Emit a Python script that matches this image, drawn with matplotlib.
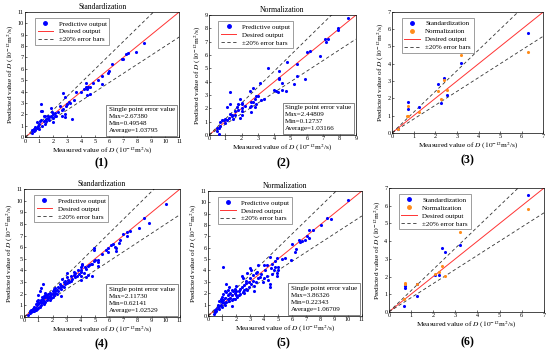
import matplotlib
matplotlib.use('Agg')
import matplotlib.pyplot as plt
from matplotlib.lines import Line2D

plt.rcParams['font.family'] = ['Liberation Serif', 'DejaVu Serif']
plt.rcParams['mathtext.fontset'] = 'stix'
plt.rcParams['font.size'] = 5

# (measured, predicted) pairs
pts1 = [(8.5, 8.3), (7.9, 7.5), (7.3, 7.4), (7.2, 7.3), (7.0, 6.9), (6.9, 6.9), (6.2, 6.4),
        (6.0, 5.8), (5.9, 5.6), (5.5, 5.4), (5.5, 4.7), (5.2, 5.0), (4.8, 4.8), (4.6, 4.4),
        (4.6, 3.8), (4.5, 4.4), (4.4, 4.2), (4.3, 4.4), (4.3, 4.8), (4.2, 4.2), (4.4, 3.7),
        (4.0, 4.0), (3.6, 4.0), (3.5, 3.3), (3.3, 1.6), (3.2, 3.0), (3.0, 2.9), (2.8, 3.5),
        (2.7, 3.9), (2.9, 2.7), (2.8, 2.0), (2.8, 1.8), (2.7, 2.5), (2.6, 2.4), (2.6, 1.9),
        (2.5, 2.7), (2.3, 2.2), (2.0, 2.0), (2.0, 1.7), (2.0, 1.3), (1.9, 2.2), (1.8, 2.6),
        (1.8, 1.9), (1.7, 1.8), (1.6, 1.7), (1.5, 1.6), (1.4, 1.9), (1.3, 1.9), (1.3, 1.4),
        (1.2, 2.3), (1.1, 2.9), (1.1, 2.3), (1.1, 1.5), (1.0, 1.2), (1.0, 0.7), (0.9, 1.0),
        (0.8, 1.3), (0.8, 0.8), (0.7, 0.9), (0.6, 0.7), (0.5, 0.6), (0.5, 0.4), (0.6, 0.5),
        (1.2, 1.0), (1.5, 1.4), (1.7, 1.5), (1.9, 1.8), (2.1, 2.1), (2.2, 1.9), (1.4, 1.2),
        (0.9, 0.8), (1.6, 1.9), (2.1, 1.9), (3.1, 3.1), (1.05, 1.4), (0.7, 0.6)]

pts2 = [(8.5, 8.8), (7.9, 8.0), (7.9, 7.9), (7.3, 7.2), (7.2, 7.0), (7.1, 7.2), (6.8, 5.9),
        (6.2, 6.3), (6.0, 6.2), (5.9, 4.2), (5.4, 4.4), (5.4, 5.3), (5.2, 3.8), (4.8, 5.5),
        (4.7, 3.3), (4.5, 3.4), (4.5, 3.9), (4.3, 4.8), (4.3, 4.3), (4.3, 4.2), (4.2, 3.2),
        (4.1, 3.3), (4.0, 3.4), (3.6, 5.0), (3.4, 2.7), (3.2, 2.6), (3.1, 3.9), (3.0, 2.9),
        (2.9, 2.9), (2.8, 2.7), (2.7, 2.5), (2.7, 3.5), (2.6, 2.2), (2.6, 1.7), (2.5, 2.1),
        (2.5, 3.3), (2.0, 2.4), (2.0, 2.3), (2.0, 1.8), (2.0, 1.5), (1.9, 2.7), (1.8, 2.3),
        (1.8, 1.9), (1.7, 2.1), (1.6, 1.5), (1.5, 1.2), (1.4, 1.5), (1.3, 3.2), (1.3, 2.3),
        (1.3, 1.6), (1.2, 1.3), (1.1, 2.1), (1.1, 1.1), (1.0, 1.2), (0.9, 1.1), (0.8, 1.1),
        (0.7, 1.0), (0.6, 0.5), (0.5, 0.5), (0.6, 0.1), (0.5, 0.3), (1.9, 1.3), (2.0, 2.0),
        (1.6, 1.8), (2.9, 2.3), (2.8, 2.1), (1.0, 0.9), (1.4, 1.4), (2.2, 2.2), (2.6, 2.5),
        (0.7, 0.7)]

pts3_std = [(0.25, 0.25), (0.75, 1.8), (0.75, 1.4), (1.25, 1.5), (2.1, 2.8), (2.25, 1.75),
            (2.4, 3.15), (2.55, 2.2), (3.2, 4.05), (6.3, 5.8)]
pts3_norm = [(0.25, 0.25), (0.75, 1.55), (0.7, 0.95), (0.75, 1.0), (1.25, 1.2), (2.1, 2.4),
             (2.25, 1.95), (2.4, 3.05), (2.55, 2.5), (3.2, 4.5), (6.3, 4.7)]

pts4 = [(10.0, 9.7), (8.5, 8.5), (8.8, 8.1), (8.1, 7.7), (7.5, 7.4), (7.3, 7.3), (7.3, 6.95),
        (7.0, 7.1), (6.8, 6.6), (6.7, 6.4), (6.5, 5.7), (6.5, 5.9), (6.4, 6.0), (6.3, 6.3),
        (6.1, 6.2), (5.9, 5.9), (5.8, 5.8), (5.9, 5.6), (5.5, 5.4), (5.2, 4.9), (5.2, 4.7),
        (5.2, 4.4), (5.0, 4.9), (4.9, 5.9), (4.9, 5.8), (4.9, 4.8), (4.8, 3.5), (4.8, 4.6),
        (4.7, 4.6), (4.6, 4.5), (4.5, 4.4), (4.5, 3.6), (4.4, 4.1), (4.4, 3.4), (4.3, 4.3),
        (4.2, 3.8), (4.1, 4.6), (4.1, 4.5), (4.0, 4.3), (4.0, 4.0), (4.0, 3.9), (4.0, 3.5),
        (4.0, 3.2), (3.9, 3.7), (3.8, 4.0), (3.7, 3.5), (3.6, 3.8), (3.5, 3.9), (3.5, 3.6),
        (3.4, 3.3), (3.3, 3.5), (3.2, 3.0), (3.1, 3.2), (3.0, 3.8), (3.0, 3.4), (3.0, 2.9),
        (2.9, 3.1), (2.9, 2.8), (2.8, 2.6), (2.8, 3.0), (2.7, 3.3), (2.7, 2.7), (2.6, 1.8),
        (2.6, 2.4), (2.5, 2.5), (2.5, 2.8), (2.4, 2.6), (2.4, 2.2), (2.3, 2.3), (2.2, 2.1),
        (2.2, 2.5), (2.1, 2.4), (2.1, 1.9), (2.0, 2.0), (2.0, 2.2), (1.9, 1.6), (1.9, 2.0),
        (1.8, 1.8), (1.8, 2.1), (1.7, 2.0), (1.7, 1.6), (1.6, 1.9), (1.6, 1.5), (1.5, 2.1),
        (1.5, 1.7), (1.5, 1.3), (1.4, 1.8), (1.4, 1.4), (1.4, 1.1), (1.3, 2.8), (1.3, 1.6),
        (1.3, 1.2), (1.2, 2.5), (1.2, 1.5), (1.2, 1.0), (1.1, 2.2), (1.1, 1.3), (1.1, 0.9),
        (1.0, 1.9), (1.0, 1.5), (1.0, 1.1), (1.0, 0.8), (0.9, 1.4), (0.9, 1.0), (0.9, 0.7),
        (0.8, 1.1), (0.8, 0.8), (0.8, 0.6), (0.7, 0.8), (0.7, 0.9), (0.7, 0.5), (0.6, 0.5),
        (0.6, 0.7), (0.5, 0.6), (0.5, 0.4), (0.4, 0.3), (0.4, 0.5), (0.3, 0.2), (1.6, 1.7),
        (1.8, 1.5), (2.3, 2.0), (2.6, 2.7), (3.3, 3.1), (3.6, 3.4), (2.0, 1.7), (1.2, 1.3),
        (0.95, 1.2), (1.35, 1.5), (1.75, 1.75), (2.15, 2.2), (1.25, 1.7), (1.45, 1.9)]

pts5 = [(10.0, 10.2), (8.8, 8.5), (8.5, 8.6), (8.1, 8.0), (7.5, 7.6), (7.2, 7.6), (7.1, 7.0),
        (7.2, 6.9), (6.9, 6.7), (6.7, 6.6), (6.5, 6.7), (6.6, 6.5), (6.3, 5.9), (6.2, 5.6),
        (6.0, 6.3), (5.9, 4.9), (5.5, 5.1), (5.3, 5.0), (5.0, 4.3), (5.0, 4.0), (4.9, 3.8),
        (4.9, 3.5), (4.9, 5.1), (4.8, 4.3), (4.7, 4.0), (4.6, 3.7), (4.5, 4.2), (4.4, 5.2),
        (4.4, 2.5), (4.4, 2.8), (4.3, 3.2), (4.2, 4.5), (4.1, 4.0), (4.0, 3.3), (4.0, 4.5),
        (3.9, 3.0), (3.8, 3.7), (3.7, 3.4), (3.6, 4.5), (3.5, 3.9), (3.4, 3.8), (3.3, 2.6),
        (3.3, 2.2), (3.2, 3.6), (3.1, 4.0), (3.0, 4.2), (3.0, 3.3), (2.9, 3.0), (2.9, 2.5),
        (2.8, 3.8), (2.8, 2.3), (2.7, 3.1), (2.6, 2.7), (2.6, 2.0), (2.5, 3.3), (2.5, 2.1),
        (2.4, 2.5), (2.4, 3.5), (2.3, 1.9), (2.2, 2.2), (2.1, 1.7), (2.0, 2.6), (2.0, 1.8),
        (1.9, 2.0), (1.9, 2.4), (1.8, 1.5), (1.8, 2.2), (1.7, 2.3), (1.7, 1.4), (1.6, 2.0),
        (1.6, 1.6), (1.5, 2.5), (1.5, 1.3), (1.4, 1.8), (1.4, 2.3), (1.3, 2.8), (1.3, 2.1),
        (1.3, 1.2), (1.2, 2.2), (1.2, 1.0), (1.1, 4.3), (1.1, 1.9), (1.1, 1.4), (1.0, 1.7),
        (1.0, 1.2), (1.0, 0.8), (0.9, 1.5), (0.9, 1.0), (0.8, 1.3), (0.8, 0.9), (0.8, 0.6),
        (0.7, 0.8), (0.7, 1.0), (0.6, 0.6), (0.6, 0.4), (0.5, 0.5), (0.5, 0.3), (0.4, 0.2),
        (1.7, 0.9), (1.9, 1.5), (2.2, 1.8), (2.7, 2.4), (3.1, 2.8), (3.6, 3.3), (1.2, 1.6),
        (1.5, 1.9), (2.0, 2.2), (2.3, 2.4), (0.95, 1.3), (1.15, 1.1), (1.45, 1.5), (1.75, 1.8),
        (2.55, 2.3), (2.75, 2.9), (3.2, 3.1), (3.4, 3.0), (4.2, 3.5), (4.6, 4.6), (4.8, 4.8)]

pts6_std = [(0.7, 0.35), (0.75, 1.35), (0.75, 1.45), (1.25, 0.9), (1.25, 1.6), (2.1, 2.1),
            (2.25, 2.1), (2.4, 3.6), (2.55, 3.4), (3.2, 3.8), (6.3, 6.6)]
pts6_norm = [(0.7, 0.75), (0.75, 1.65), (0.75, 1.55), (1.25, 1.6), (2.1, 2.15), (2.25, 2.25),
             (2.4, 2.6), (2.55, 2.05), (3.2, 4.5), (6.3, 5.8)]

titles = ['Standardization', 'Normalization', '', 'Standardization', 'Normalization', '']
limits = [11, 9, 7, 11, 11, 7]
errors = [('2.67380', '0.49548', '1.03795'), ('2.44809', '0.12737', '1.03166'), None,
          ('2.11730', '0.62141', '1.02529'), ('3.86326', '0.22343', '1.06709'), None]
boxes = [[0.046, 0.620, 0.280, 0.347], [0.380, 0.626, 0.267, 0.332], [0.713, 0.632, 0.275, 0.335],
         [0.044, 0.122, 0.283, 0.354], [0.378, 0.125, 0.280, 0.346], [0.707, 0.136, 0.282, 0.343]]
labpos = [(0.185, 0.547), (0.515, 0.547), (0.85, 0.555), (0.185, 0.047), (0.515, 0.049), (0.85, 0.052)]

BLUE = '#0000ff'
ORANGE = '#ff8c1a'

fig = plt.figure(figsize=(5.5, 3.61), dpi=100)


def scatter(ax, pts, color):
    ax.scatter([p[0] for p in pts], [p[1] for p in pts], s=5, color=color, lw=0, zorder=3)


for i in range(6):
    ax = fig.add_axes(boxes[i])
    lim = limits[i]
    ax.plot([0, lim], [0, lim], color='#ff3333', lw=0.7, zorder=2)
    ax.plot([0, lim], [0, 1.2 * lim], color='#333333', lw=0.6, ls=(0, (4, 3)), zorder=2)
    ax.plot([0, lim], [0, 0.8 * lim], color='#333333', lw=0.6, ls=(0, (4, 3)), zorder=2)
    red = Line2D([], [], color='#ff3333', lw=0.7)
    dash = Line2D([], [], color='#333333', lw=0.6, ls=(0, (4, 3)))
    if i in (2, 5):
        s_pts, n_pts = (pts3_std, pts3_norm) if i == 2 else (pts6_std, pts6_norm)
        scatter(ax, s_pts, BLUE)
        scatter(ax, n_pts, ORANGE)
        hs = [Line2D([], [], marker='o', color=BLUE, ls='', ms=2.5),
              Line2D([], [], marker='o', color=ORANGE, ls='', ms=2.5), red, dash]
        ls = ['Standardization', 'Normalization', 'Desired output', '\u00b120% error bars']
    else:
        scatter(ax, [pts1, pts2, None, pts4, pts5][i], BLUE)
        hs = [Line2D([], [], marker='o', color=BLUE, ls='', ms=2.5), red, dash]
        ls = ['Predictive output', 'Desired output', '\u00b120% error bars']
        e = errors[i]
        ax.text(0.97, 0.03, 'Single point error value\nMax=%s\nMin=%s\nAverage=%s' % e,
                transform=ax.transAxes, ha='right', va='bottom', multialignment='left',
                fontsize=5, linespacing=1.5,
                bbox=dict(boxstyle='square,pad=0.4', fc='white', ec='#555555', lw=0.5))
    ax.legend(hs, ls, loc='upper left', fontsize=5, frameon=True, fancybox=False,
              edgecolor='#555555', handlelength=2.2, borderpad=0.4, labelspacing=0.3,
              bbox_to_anchor=(0.04, 0.98)).get_frame().set_linewidth(0.5)
    ax.set_xlim(0, lim)
    ax.set_ylim(0, lim)
    ax.set_xticks(range(lim + 1))
    ax.set_yticks(range(lim + 1))
    ax.tick_params(labelsize=4.5, length=1.5, width=0.4, pad=1, direction='in')
    for sp in ax.spines.values():
        sp.set_linewidth(0.5)
    ax.set_xlabel('Measured value of $D$ ($10^{-12}$m$^2$/s)', fontsize=5.3, labelpad=1)
    ax.set_ylabel('Predicted value of $D$ ($10^{-12}$m$^2$/s)', fontsize=5.3, labelpad=1)
    if titles[i]:
        ax.set_title(titles[i], fontsize=5.5, pad=2)
    fig.text(labpos[i][0], labpos[i][1], '(%d)' % (i + 1), fontsize=8.5, fontweight='bold',
             ha='center', va='center')

fig.savefig('out.png', dpi=100)
